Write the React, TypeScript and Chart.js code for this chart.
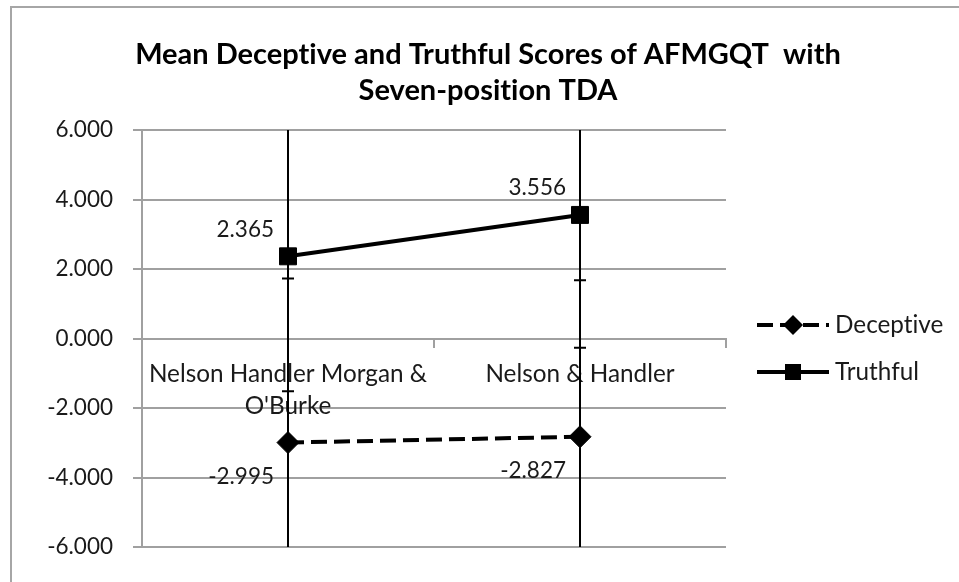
import React, { useEffect, useRef } from 'react';
import { Chart, registerables } from 'chart.js';

Chart.register(...registerables);

// ---- data ----
const TITLE_LINES = ['Mean Deceptive and Truthful Scores of AFMGQT  with', 'Seven-position TDA'];
const CATEGORIES: (string | string[])[] = [['Nelson Handler Morgan &', "O'Burke"], 'Nelson & Handler'];
const SERIES_NAMES = ['Deceptive', 'Truthful'];
const DECEPTIVE = [-2.995, -2.827];
const TRUTHFUL = [2.365, 3.556];
const DECEPTIVE_ERR = [4.72, 4.5];
const TRUTHFUL_ERR = [3.88, 3.82];
const Y_MIN = -6;
const Y_MAX = 6;
const Y_STEP = 2;

// ---- style ----
const FONT = 'Lato, "Open Sans", sans-serif';
const TEXT = '#1a1a1a';
const GRID = '#a0a0a0';
const NUM_SIZE = 22.5;
const WORD_SIZE = 24.3;

const decor = {
  id: 'decor',
  beforeDraw(chart: any) {
    const { ctx, width, height } = chart;
    try { ctx.textRendering = 'optimizeSpeed'; } catch (e) {}
    ctx.save();
    ctx.fillStyle = '#fff';
    ctx.fillRect(0, 0, width, height);
    ctx.strokeStyle = '#a6a6a6';
    ctx.lineWidth = 2;
    ctx.strokeRect(11, 7, width + 40, height + 40);
    ctx.fillStyle = '#000';
    ctx.font = `bold 29px ${FONT}`;
    ctx.textAlign = 'center';
    ctx.textBaseline = 'middle';
    TITLE_LINES.forEach((t, i) => ctx.fillText(t, 488, 55 + i * 36));
    ctx.restore();
  },
  beforeDatasetsDraw(chart: any) {
    const { ctx, chartArea } = chart;
    const yScale = chart.scales.y;
    const errs = [DECEPTIVE_ERR, TRUTHFUL_ERR];
    ctx.save();
    ctx.beginPath();
    ctx.rect(chartArea.left, chartArea.top, chartArea.right - chartArea.left, chartArea.bottom - chartArea.top);
    ctx.clip();
    ctx.strokeStyle = '#000';
    ctx.lineWidth = 2;
    chart.data.datasets.forEach((ds: any, i: number) => {
      const meta = chart.getDatasetMeta(i);
      ds.data.forEach((v: number, j: number) => {
        const x = meta.data[j].x;
        const e = errs[i][j];
        const yt = yScale.getPixelForValue(v + e);
        const yb = yScale.getPixelForValue(v - e);
        ctx.beginPath();
        ctx.moveTo(x, yt);
        ctx.lineTo(x, yb);
        ctx.moveTo(x - 6, yt);
        ctx.lineTo(x + 6, yt);
        ctx.moveTo(x - 6, yb);
        ctx.lineTo(x + 6, yb);
        ctx.stroke();
      });
    });
    ctx.restore();
  },
  afterDatasetsDraw(chart: any) {
    const { ctx } = chart;
    ctx.save();
    ctx.fillStyle = TEXT;
    ctx.font = `${NUM_SIZE}px ${FONT}`;
    ctx.textAlign = 'right';
    ctx.textBaseline = 'middle';
    chart.data.datasets.forEach((ds: any, i: number) => {
      const meta = chart.getDatasetMeta(i);
      ds.data.forEach((v: number, j: number) => {
        const p = meta.data[j];
        const dy = v >= 0 ? -27 : 34;
        ctx.fillText(v.toFixed(3), p.x - 14, p.y + dy);
      });
    });
    ctx.restore();
  },
  afterDraw(chart: any) {
    const { ctx, chartArea } = chart;
    const x0 = chartArea.right + 31;
    const x1 = x0 + 72;
    const xm = (x0 + x1) / 2;
    const ys = [325, 372];
    ctx.save();
    chart.data.datasets.forEach((ds: any, i: number) => {
      const y = ys[i];
      ctx.strokeStyle = '#000';
      ctx.fillStyle = '#000';
      ctx.lineWidth = 4;
      ctx.setLineDash(ds.borderDash || []);
      ctx.beginPath();
      ctx.moveTo(x0, y);
      ctx.lineTo(x1, y);
      ctx.stroke();
      ctx.setLineDash([]);
      ctx.beginPath();
      if (ds.pointStyle === 'rectRot') {
        const r = 10;
        ctx.moveTo(xm, y - r);
        ctx.lineTo(xm + r, y);
        ctx.lineTo(xm, y + r);
        ctx.lineTo(xm - r, y);
        ctx.closePath();
      } else {
        ctx.rect(xm - 8, y - 8, 16, 16);
      }
      ctx.fill();
      ctx.fillStyle = TEXT;
      ctx.font = `${WORD_SIZE}px ${FONT}`;
      ctx.textAlign = 'left';
      ctx.textBaseline = 'middle';
      ctx.fillText(ds.label, x1 + 6, y);
    });
    ctx.restore();
  },
};

export default function App() {
  const ref = useRef<HTMLCanvasElement>(null);
  useEffect(() => {
    if (!ref.current) return;
    const chart = new Chart(ref.current, {
      type: 'line',
      data: {
        labels: CATEGORIES,
        datasets: [
          {
            label: SERIES_NAMES[0],
            data: DECEPTIVE,
            borderColor: '#000',
            backgroundColor: '#000',
            borderWidth: 4,
            borderDash: [16, 7],
            pointStyle: 'rectRot',
            pointRadius: 11,
            pointBorderWidth: 1,
            pointBackgroundColor: '#000',
            pointBorderColor: '#000',
          },
          {
            label: SERIES_NAMES[1],
            data: TRUTHFUL,
            borderColor: '#000',
            backgroundColor: '#000',
            borderWidth: 4,
            pointStyle: 'rect',
            pointRadius: 12,
            pointBorderWidth: 1,
            pointBackgroundColor: '#000',
            pointBorderColor: '#000',
          },
        ],
      },
      options: {
        responsive: false,
        animation: false,
        devicePixelRatio: 1,
        layout: { padding: { left: 0, right: 233, top: 130, bottom: 35 } },
        plugins: {
          legend: { display: false },
          title: { display: false },
          tooltip: { enabled: false },
        },
        scales: {
          x: {
            type: 'category',
            position: { y: 0 } as any,
            offset: true,
            grid: {
              offset: true,
              drawOnChartArea: false,
              drawTicks: true,
              tickLength: 8,
              color: GRID,
              lineWidth: 2,
            },
            border: { display: true, color: GRID, width: 2 },
            ticks: {
              padding: 12,
              color: TEXT,
              maxRotation: 0,
              autoSkip: false,
              font: { family: FONT, size: WORD_SIZE, lineHeight: '32px' as any },
            },
          },
          y: {
            min: Y_MIN,
            max: Y_MAX,
            afterFit: (s: any) => {
              s.width = 142;
            },
            grid: { color: GRID, lineWidth: 2, tickLength: 9 },
            border: { display: true, color: GRID, width: 2 },
            ticks: {
              stepSize: Y_STEP,
              padding: 20,
              color: TEXT,
              font: { family: FONT, size: NUM_SIZE },
              callback: (v: any) => Number(v).toFixed(3),
            },
          },
        },
      },
      plugins: [decor],
    });
    return () => chart.destroy();
  }, []);
  return (
    <div style={{ position: 'fixed', left: 0, top: 0, width: 959, height: 582 }}>
      <canvas ref={ref} width={959} height={582} />
    </div>
  );
}
